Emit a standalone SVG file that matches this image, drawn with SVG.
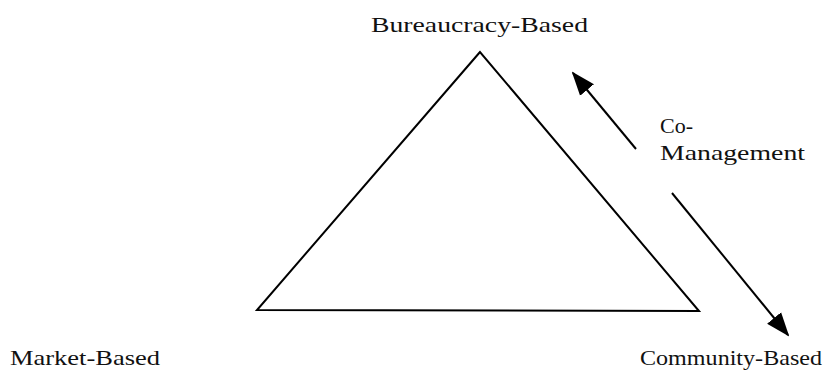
<svg xmlns="http://www.w3.org/2000/svg" width="825" height="373" viewBox="0 0 825 373">
<style>
text{font-family:"Liberation Serif","Times New Roman",serif;font-size:22px;fill:#111}
.ln{stroke:#000;stroke-width:2;fill:none}
</style>
<defs>
<marker id="ah2" markerWidth="24" markerHeight="24" refX="22" refY="12" orient="auto" markerUnits="userSpaceOnUse" viewBox="0 0 24 24">
<path d="M0,3 L24,12 L0,21 Z" fill="#000"/>
</marker>
</defs>
<rect width="825" height="373" fill="#fff"/>
<g id="triangle">
<polygon class="ln" points="480,52 257,310 699,311"/>
</g>
<g id="bureaucracy"><text x="371" y="32" textLength="217" lengthAdjust="spacingAndGlyphs">Bureaucracy-Based</text></g>
<g id="market"><text x="10" y="365" textLength="150" lengthAdjust="spacingAndGlyphs">Market-Based</text></g>
<g id="community"><text x="640" y="365" textLength="182" lengthAdjust="spacingAndGlyphs">Community-Based</text></g>
<g id="comanagement"><text x="660" y="133">Co-</text><text x="660" y="160" textLength="145" lengthAdjust="spacingAndGlyphs">Management</text></g>
<g id="connectors">
<line class="ln" x1="636" y1="149" x2="573" y2="73" marker-end="url(#ah2)"/>
<line class="ln" x1="672" y1="193" x2="788" y2="335" marker-end="url(#ah2)"/>
</g>
</svg>
